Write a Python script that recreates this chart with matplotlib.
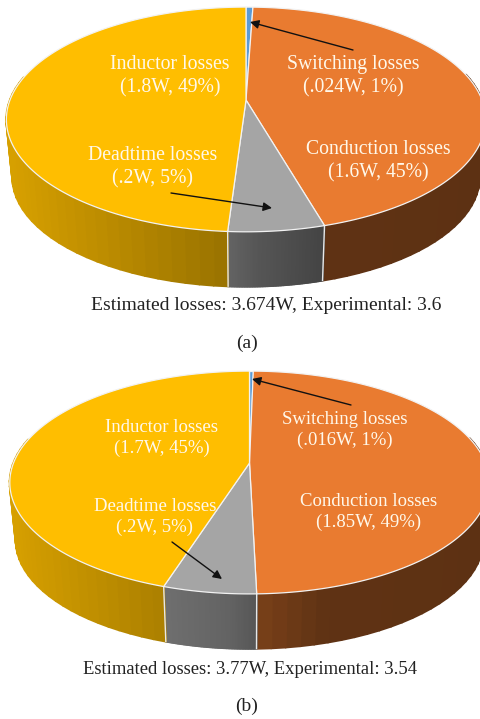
import matplotlib
matplotlib.use('Agg')
import matplotlib.pyplot as plt
import numpy as np

plt.rcParams['font.family'] = ['Liberation Serif', 'DejaVu Serif']

# shares, clockwise from the top of the pie
slices = ['Switching', 'Conduction', 'Deadtime', 'Inductor']
shares_a = [0.55, 45.0, 5.5, 49.0]
shares_b = [0.3, 49.3, 5.3, 45.1]
slice_colors = ['#5B9BD5', '#E97B30', '#A5A5A5', '#FFBE00']

labels_a = ['Switching losses\n(.024W, 1%)', 'Conduction losses\n(1.6W, 45%)',
            'Deadtime losses\n(.2W, 5%)', 'Inductor losses\n(1.8W, 49%)']
labels_b = ['Switching losses\n(.016W, 1%)', 'Conduction losses\n(1.85W, 49%)',
            'Deadtime losses\n(.2W, 5%)', 'Inductor losses\n(1.7W, 45%)']
caption_a = 'Estimated losses: 3.674W, Experimental: 3.6'
caption_b = 'Estimated losses: 3.77W, Experimental: 3.54'

# wall shading against image x
shade_x = [10, 164, 228, 257, 324, 481]
shade_f = [0.84, 0.67, 0.60, 0.52, 0.41, 0.40]


def project(theta, cx, cy, a, b, k):
    # theta clockwise from the far point of the disc, simple perspective
    w = 1 + k * np.cos(theta)
    return cx + a * np.sin(theta) / w, cy - b * np.cos(theta) / w


def draw_pie(ax, shares, cx, cy, a, b, k, depth):
    edges = np.cumsum([0] + shares) / sum(shares) * 2 * np.pi

    # side wall, strips overlap a little so no seams show between them
    for i, col in enumerate(slice_colors):
        t = np.linspace(edges[i], edges[i + 1], 60)
        t = t[np.cos(t) < 0.25]
        if len(t) < 2:
            continue
        x, y = project(t, cx, cy, a, b, k)
        xb = cx + (x - cx) * 0.975
        yb = cy + (y - cy) * 0.975 + depth
        rgb = np.array(matplotlib.colors.to_rgb(col))
        for j in range(len(t) - 1):
            f = np.interp((x[j] + x[j + 1]) / 2, shade_x, shade_f)
            ax.fill([x[j], x[j + 1], xb[j + 1], xb[j]], [y[j], y[j + 1], yb[j + 1], yb[j]],
                    color=rgb * f, lw=1.6, joinstyle='round', zorder=1)

    # white seams on the wall
    for e in edges[1:-1]:
        if np.cos(e) < 0:
            x, y = project(e, cx, cy, a, b, k)
            ax.plot([x, cx + (x - cx) * 0.975], [y, cy + (y - cy) * 0.975 + depth],
                    color='#E8E8E8', lw=1.0, zorder=2)

    # top of the pie
    for i, col in enumerate(slice_colors):
        t = np.linspace(edges[i], edges[i + 1], 300)
        x, y = project(t, cx, cy, a, b, k)
        ax.fill(np.r_[cx, x], np.r_[cy, y], facecolor=col, edgecolor='#F2F2F2', lw=0.9, zorder=3)


def put_labels(ax, labels, places, size):
    for lab, (x, y) in zip(labels, places):
        ax.text(x, y, lab, color='#FFF8EA', fontsize=size, ha='center', va='center',
                linespacing=1.27, zorder=5)


def arrow(ax, start, end):
    ax.annotate('', xy=end, xytext=start, zorder=6,
                arrowprops=dict(arrowstyle='-|>', color='#111111', lw=1.0, mutation_scale=13,
                                shrinkA=0, shrinkB=0))


fig = plt.figure(figsize=(4.81, 7.19), dpi=100)
ax = fig.add_axes([0, 0, 1, 1])
ax.set_xlim(0, 481)
ax.set_ylim(719, 0)
ax.axis('off')

draw_pie(ax, shares_a, 246, 100, 236, 109, 0.173, 58)
draw_pie(ax, shares_b, 249.5, 463, 236, 108, 0.175, 58)

put_labels(ax, labels_a, [(353, 76.5), (378, 161.5), (153, 167.5), (170, 76.5)], 14.2)
put_labels(ax, labels_b, [(345, 430), (369, 512), (155, 517), (162, 438)], 13.5)

arrow(ax, (353, 50), (250, 22))
arrow(ax, (171, 193), (272, 208))
arrow(ax, (351, 405), (252, 379))
arrow(ax, (172, 542), (222, 579))

ax.text(266, 306, caption_a, color='#222222', fontsize=14.0, ha='center', va='center')
ax.text(247, 343, '(a)', color='#222222', fontsize=14.0, ha='center', va='center')
ax.text(250, 670, caption_b, color='#222222', fontsize=13.4, ha='center', va='center')
ax.text(247, 706, '(b)', color='#222222', fontsize=14.0, ha='center', va='center')

fig.savefig('out.png', dpi=100)
